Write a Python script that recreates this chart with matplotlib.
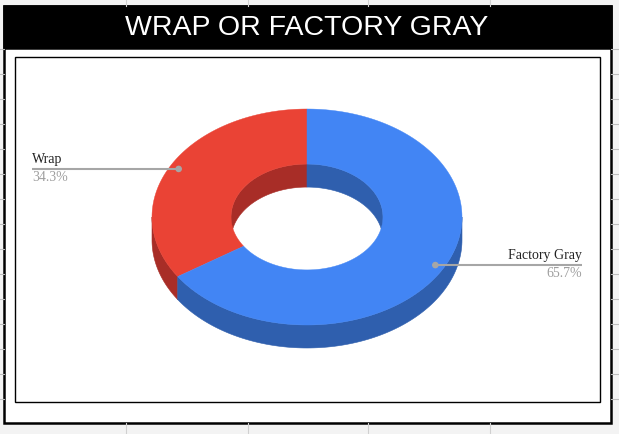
import numpy as np
import matplotlib
matplotlib.use("Agg")
import matplotlib.pyplot as plt
from matplotlib.patches import Polygon, Rectangle, Circle

# chart data
title = "WRAP OR FACTORY GRAY"
labels = ["Wrap", "Factory Gray"]
values = [34.3, 65.7]
top_colors = ["#ea4335", "#4285f4"]
side_colors = ["#a82d27", "#2f5fae"]

# geometry of the 3D donut (pixels)
cx, cy = 307, 217
a_out, b_out = 155, 108
hole = 0.49
depth = 23
W, H = 619, 434

fig = plt.figure(figsize=(W / 100, H / 100), dpi=100)
fig.patch.set_facecolor("#f3f3f3")
ax = fig.add_axes([0, 0, 1, 1])
ax.set_xlim(0, W)
ax.set_ylim(H, 0)
ax.axis("off")

# spreadsheet cell ticks around the box
for x in [126, 247.5, 368, 489.5]:
    ax.plot([x, x], [0, 6], color="#d0d0d0", lw=0.8)
    ax.plot([x, x], [423, H], color="#d0d0d0", lw=0.8)
for y in np.arange(48.5, 420, 25):
    ax.plot([0, 4], [y, y], color="#bdbdbd", lw=0.8)
    ax.plot([611, W], [y, y], color="#bdbdbd", lw=0.8)

# outer box, title bar, inner frame
ax.add_patch(Rectangle((4, 6), 607, 417, facecolor="white", edgecolor="black", lw=1.8))
ax.add_patch(Rectangle((4, 6), 607, 42, facecolor="black", edgecolor="black", lw=1.8))
ax.add_patch(Rectangle((14.5, 57), 585.5, 345, facecolor="none", edgecolor="black", lw=1.0))
ax.text(307, 28, title, color="white", ha="center", va="center",
        fontsize=20.5, family="Liberation Sans")


def ell(t, a, b, dy=0.0):
    return np.column_stack([cx + a * np.cos(t), cy - b * np.sin(t) + dy])


# slice angles: start at 12 o'clock, Wrap goes counterclockwise
fracs = np.array(values) / sum(values)
starts = [90.0, 90.0 + 360 * fracs[0]]
ends = [90.0 + 360 * fracs[0], 450.0]

a_in, b_in = a_out * hole, b_out * hole

# inner walls seen through the hole (far half)
for s, e, col in zip(starts, ends, side_colors):
    lo, hi = max(s % 360, 0), e % 360 if e % 360 else 360
    for seg in [(s, e), (s - 360, e - 360)]:
        l, h = max(seg[0], 0), min(seg[1], 180)
        if h > l:
            t = np.radians(np.linspace(l, h, 80))
            pts = np.vstack([ell(t, a_in, b_in), ell(t[::-1], a_in, b_in, depth)])
            ax.add_patch(Polygon(pts, closed=True, facecolor=col, edgecolor=col, lw=0.4))

# outer walls (near half)
for s, e, col in zip(starts, ends, side_colors):
    l, h = max(s, 180), min(e, 360)
    if h > l:
        t = np.radians(np.linspace(l, h, 120))
        pts = np.vstack([ell(t, a_out, b_out), ell(t[::-1], a_out, b_out, depth)])
        ax.add_patch(Polygon(pts, closed=True, facecolor=col, edgecolor=col, lw=0.4))

# top faces
for s, e, col in zip(starts, ends, top_colors):
    t = np.radians(np.linspace(s, e, 200))
    pts = np.vstack([ell(t, a_out, b_out), ell(t[::-1], a_in, b_in)])
    ax.add_patch(Polygon(pts, closed=True, facecolor=col, edgecolor=col, lw=0.3))

# labels with leader lines
line_ends = [32, 582]
for i, (lab, v) in enumerate(zip(labels, values)):
    mid = np.radians((starts[i] + ends[i]) / 2)
    dx, dy = ell(np.array([mid]), a_out * 0.94, b_out * 0.94)[0]
    xe = line_ends[i]
    ax.plot([dx, xe], [dy, dy], color="#a6a6a6", lw=1.5, solid_capstyle="butt")
    ax.add_patch(Circle((dx, dy), 2.6, color="#a6a6a6"))
    ha = "left" if xe < dx else "right"
    ax.text(xe, dy - 3, lab, ha=ha, va="bottom", fontsize=10,
            family="Liberation Serif", color="#222222")
    ax.text(xe, dy + 2, f"{v}%", ha=ha, va="top", fontsize=10,
            family="Liberation Serif", color="#9e9e9e")

fig.savefig("out.png", dpi=100, facecolor=fig.get_facecolor())
